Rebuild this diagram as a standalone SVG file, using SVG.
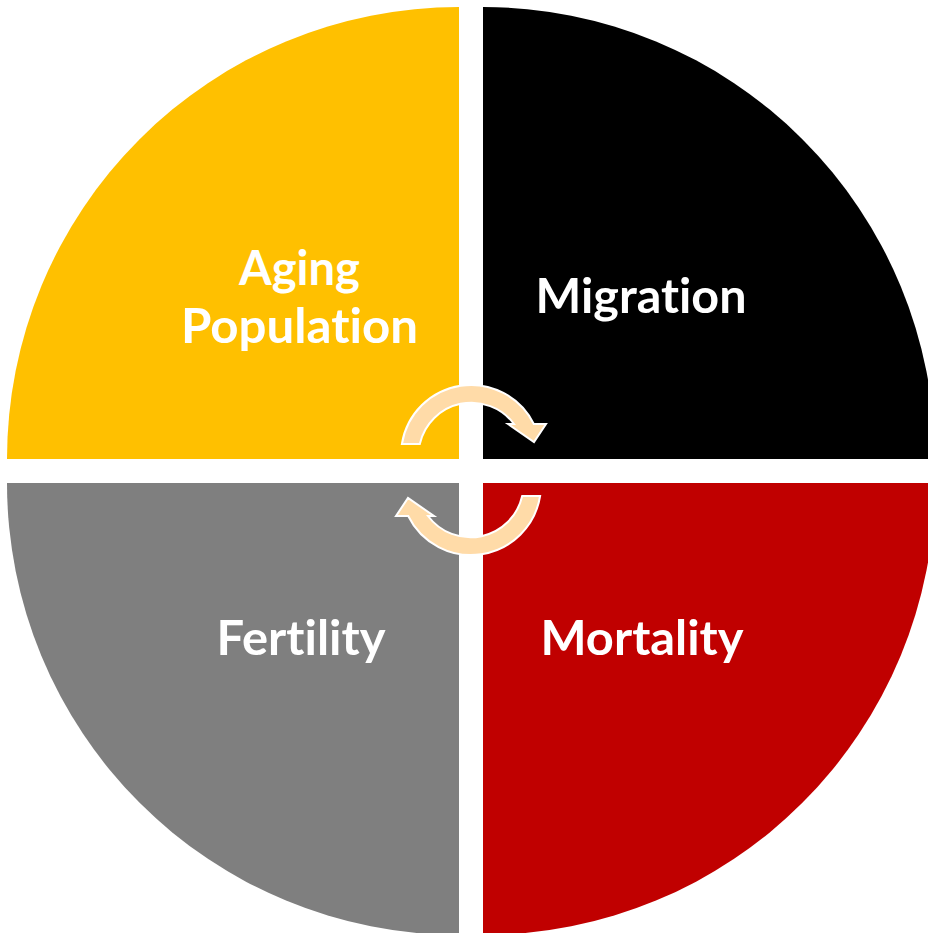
<svg xmlns="http://www.w3.org/2000/svg" width="928" height="933" viewBox="0 0 928 933">
  <style>
    .lbl { font-family: Lato, "Open Sans", "Liberation Sans", sans-serif; font-weight: bold; font-size: 48px; fill: #FFFFFF; text-anchor: middle; font-variant-ligatures: none; font-feature-settings: "liga" 0, "clig" 0; }
    .arrow { fill: #FFDBA8; stroke: #FFFFFF; stroke-width: 2; stroke-linejoin: miter; }
  </style>
  <rect width="928" height="933" fill="#FFFFFF"/>
  <g id="aging">
    <path d="M459,459 L7,459 A452,452 0 0 1 459,7 Z" fill="#FFC000"/>
    <text class="lbl" x="299.5" y="285" textLength="121" lengthAdjust="spacingAndGlyphs">Aging</text>
    <text class="lbl" x="299.5" y="343" textLength="237" lengthAdjust="spacingAndGlyphs">Population</text>
  </g>
  <g id="migration">
    <path d="M483,459 L483,7 A452,452 0 0 1 935,459 Z" fill="#000000"/>
    <text class="lbl" x="641" y="313" textLength="211" lengthAdjust="spacingAndGlyphs">Migration</text>
  </g>
  <g id="fertility">
    <path d="M459,483 L459,935 A452,452 0 0 1 7,483 Z" fill="#7F7F7F"/>
    <text class="lbl" x="301" y="655" textLength="169" lengthAdjust="spacingAndGlyphs">Fertility</text>
  </g>
  <g id="mortality">
    <path d="M483,483 L935,483 A452,452 0 0 1 483,935 Z" fill="#C00000"/>
    <text class="lbl" x="642" y="655" textLength="203" lengthAdjust="spacingAndGlyphs">Mortality</text>
  </g>
  <g id="connectors">
    <path id="arrow-top" class="arrow" d="M401.9,444 A70,70 0 0 1 533.8,424 L546,424 L534,442 L508,424 L514,424 A53,53 0 0 0 419.8,444 Z"/>
    <path id="arrow-bottom" class="arrow" transform="rotate(180 471 470)" d="M401.9,444 A70,70 0 0 1 533.8,424 L546,424 L534,442 L508,424 L514,424 A53,53 0 0 0 419.8,444 Z"/>
  </g>
</svg>
